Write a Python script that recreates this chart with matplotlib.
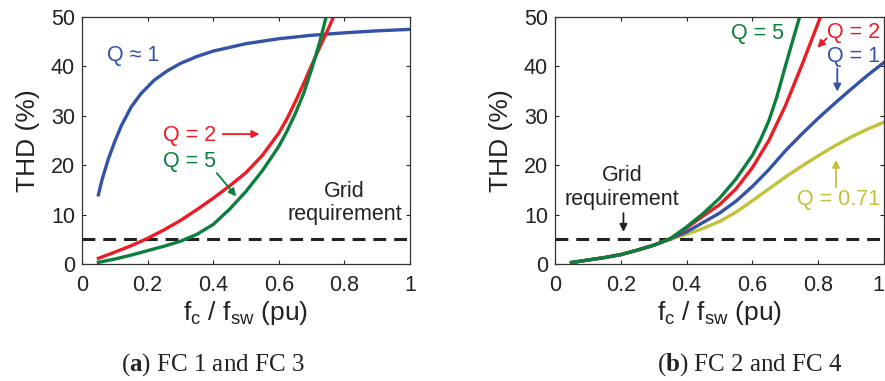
import matplotlib
matplotlib.use('Agg')
import matplotlib.pyplot as plt

plt.rcParams['font.family'] = ['Liberation Sans', 'DejaVu Sans']
plt.rcParams['mathtext.fontset'] = 'custom'
plt.rcParams['mathtext.rm'] = 'Liberation Sans'
plt.rcParams['mathtext.bf'] = 'Liberation Serif:bold'

# ---- panel (a): FC 1 and FC 3 ----
x_q1_a = [0.05, 0.06, 0.08, 0.1, 0.12, 0.15, 0.18, 0.22, 0.26, 0.3, 0.35, 0.4,
          0.5, 0.6, 0.7, 0.8, 0.9, 1.0]
thd_q1_a = [14.0, 16.8, 21.2, 24.8, 28.0, 31.8, 34.5, 37.2, 39.1, 40.6, 42.0, 43.1,
            44.6, 45.6, 46.3, 46.8, 47.2, 47.5]

x_q2_a = [0.05, 0.1, 0.15, 0.2, 0.25, 0.3, 0.35, 0.4, 0.45, 0.5, 0.55, 0.6,
          0.625, 0.65, 0.675, 0.7, 0.725, 0.75, 0.78]
thd_q2_a = [1.15, 2.4, 3.7, 5.2, 6.9, 8.8, 11.0, 13.3, 15.8, 18.5, 22.0, 26.5,
            29.4, 32.8, 36.4, 40.2, 43.9, 47.5, 52.0]

x_q5_a = [0.05, 0.1, 0.15, 0.2, 0.25, 0.3, 0.35, 0.4, 0.45, 0.5, 0.55, 0.6,
          0.625, 0.65, 0.675, 0.7, 0.725, 0.75]
thd_q5_a = [0.33, 1.0, 1.8, 2.7, 3.6, 4.6, 6.0, 8.0, 11.1, 14.7, 18.9, 23.8,
            26.9, 30.4, 34.4, 39.4, 45.0, 51.5]

# ---- panel (b): FC 2 and FC 4 ----
x_b = [0.05, 0.1, 0.15, 0.2, 0.25, 0.3, 0.35, 0.4, 0.45, 0.5, 0.55, 0.6, 0.65,
       0.7, 0.75, 0.8, 0.85, 0.9, 0.95, 1.0]
thd_q1_b = [0.3, 0.8, 1.3, 1.9, 2.8, 3.8, 5.1, 6.5, 8.4, 10.3, 12.7, 15.7, 19.1,
            22.9, 26.3, 29.5, 32.5, 35.4, 38.2, 40.8]
thd_q071_b = [0.3, 0.8, 1.3, 1.9, 2.8, 3.8, 5.0, 6.0, 7.2, 8.6, 10.5, 12.8, 15.2,
              17.6, 19.8, 21.9, 23.9, 25.7, 27.3, 28.7]

x_q5_b = [0.05, 0.1, 0.15, 0.2, 0.25, 0.3, 0.35, 0.4, 0.45, 0.5, 0.55, 0.6,
          0.625, 0.65, 0.675, 0.7, 0.725, 0.75]
thd_q5_b = [0.3, 0.8, 1.3, 1.9, 2.8, 3.8, 5.1, 7.5, 10.2, 13.3, 17.2, 22.0,
            25.2, 29.0, 34.0, 40.0, 45.8, 51.5]

x_q2_b = [0.05, 0.1, 0.15, 0.2, 0.25, 0.3, 0.35, 0.4, 0.45, 0.5, 0.55, 0.6,
          0.65, 0.7, 0.75, 0.8, 0.82]
thd_q2_b = [0.3, 0.8, 1.3, 1.9, 2.8, 3.8, 5.1, 7.3, 9.7, 12.0, 15.2, 19.5,
            25.0, 32.0, 40.2, 48.8, 52.4]

grid_limit = 5
xticks = [0, 0.2, 0.4, 0.6, 0.8, 1]
xticklabels = ['0', '0.2', '0.4', '0.6', '0.8', '1']
yticks = [0, 10, 20, 30, 40, 50]

blue = '#3453a8'
red = '#ed1c24'
green = '#0b7f3e'
yellow = '#c2c23a'
fs = 15.5

fig = plt.figure(figsize=(8.85, 3.81), dpi=100)
ax1 = fig.add_axes([82/885, 117/381, 328/885, 247/381])
ax2 = fig.add_axes([555/885, 117/381, 329/885, 247/381])

for ax in (ax1, ax2):
    ax.axhline(grid_limit, color='#222222', lw=2.2, dashes=(4.2, 2.6))
    ax.set_xlim(0, 1)
    ax.set_ylim(0, 50)
    ax.set_xticks(xticks)
    ax.set_xticklabels(xticklabels)
    ax.set_yticks(yticks)
    ax.tick_params(direction='in', top=True, right=True, length=3, width=0.8,
                   labelsize=fs, colors='#222222')
    ax.tick_params(axis='x', pad=8)
    ax.tick_params(axis='y', pad=5)
    for s in ax.spines.values():
        s.set_linewidth(0.9)
        s.set_color('#333333')
    ax.set_ylabel('THD (%)', fontsize=19, color='#222222')
    ax.yaxis.set_label_coords(-0.128, 0.5)
    ax.set_xlabel(r'f$_{\mathregular{c}}$ / f$_{\mathregular{sw}}$ (pu)', fontsize=19,
                  color='#222222')
    ax.xaxis.set_label_coords(0.5, -0.14)

# keep the last tick label of the right panel inside the figure
ax2.get_xticklabels()[-1].set_horizontalalignment('right')

arw = dict(arrowstyle='-|>', lw=1.3, mutation_scale=11, shrinkA=0, shrinkB=0)

# panel a
ax1.plot(x_q1_a, thd_q1_a, color=blue, lw=2.4)
ax1.plot(x_q2_a, thd_q2_a, color=red, lw=2.4)
ax1.plot(x_q5_a, thd_q5_a, color=green, lw=2.4)
ax1.text(0.076, 42.3, 'Q \u2248 1', color=blue, fontsize=fs, va='center')
ax1.text(0.247, 26.1, 'Q = 2', color=red, fontsize=fs, va='center')
ax1.annotate('', xy=(0.541, 26.3), xytext=(0.429, 26.3),
             arrowprops=dict(arw, color=red))
ax1.text(0.247, 20.8, 'Q = 5', color=green, fontsize=fs, va='center')
ax1.annotate('', xy=(0.47, 13.7), xytext=(0.411, 18.4),
             arrowprops=dict(arw, color=green))
ax1.text(0.80, 12.3, 'Grid\nrequirement', color='#222222', fontsize=fs,
         ha='center', va='center', linespacing=1.15)

# panel b
ax2.plot(x_b, thd_q071_b, color=yellow, lw=2.4)
ax2.plot(x_b, thd_q1_b, color=blue, lw=2.4)
ax2.plot(x_q2_b, thd_q2_b, color=red, lw=2.4)
ax2.plot(x_q5_b, thd_q5_b, color=green, lw=2.4)
ax2.text(0.695, 46.6, 'Q = 5', color=green, fontsize=fs, ha='right', va='center')
ax2.text(0.988, 46.8, 'Q = 2', color=red, fontsize=fs, ha='right', va='center')
ax2.annotate('', xy=(0.797, 43.8), xytext=(0.826, 45.7),
             arrowprops=dict(arw, color=red))
ax2.text(0.988, 42.1, 'Q = 1', color=blue, fontsize=fs, ha='right', va='center')
ax2.annotate('', xy=(0.858, 34.9), xytext=(0.858, 39.6),
             arrowprops=dict(arw, color=blue))
ax2.text(0.988, 13.0, 'Q = 0.71', color=yellow, fontsize=fs, ha='right', va='center')
ax2.annotate('', xy=(0.854, 21.1), xytext=(0.854, 15.6),
             arrowprops=dict(arw, color=yellow))
ax2.text(0.203, 15.5, 'Grid\nrequirement', color='#222222', fontsize=fs,
         ha='center', va='center', linespacing=1.15)
ax2.annotate('', xy=(0.208, 6.5), xytext=(0.208, 10.3),
             arrowprops=dict(arw, color='#222222'))

fig.text(0.240, 0.042, r'($\mathbf{a}$) FC 1 and FC 3', family='Liberation Serif',
         fontsize=18, ha='center', va='center', color='#222222')
fig.text(0.847, 0.042, r'($\mathbf{b}$) FC 2 and FC 4', family='Liberation Serif',
         fontsize=18, ha='center', va='center', color='#222222')

fig.savefig('out.png', dpi=100)
